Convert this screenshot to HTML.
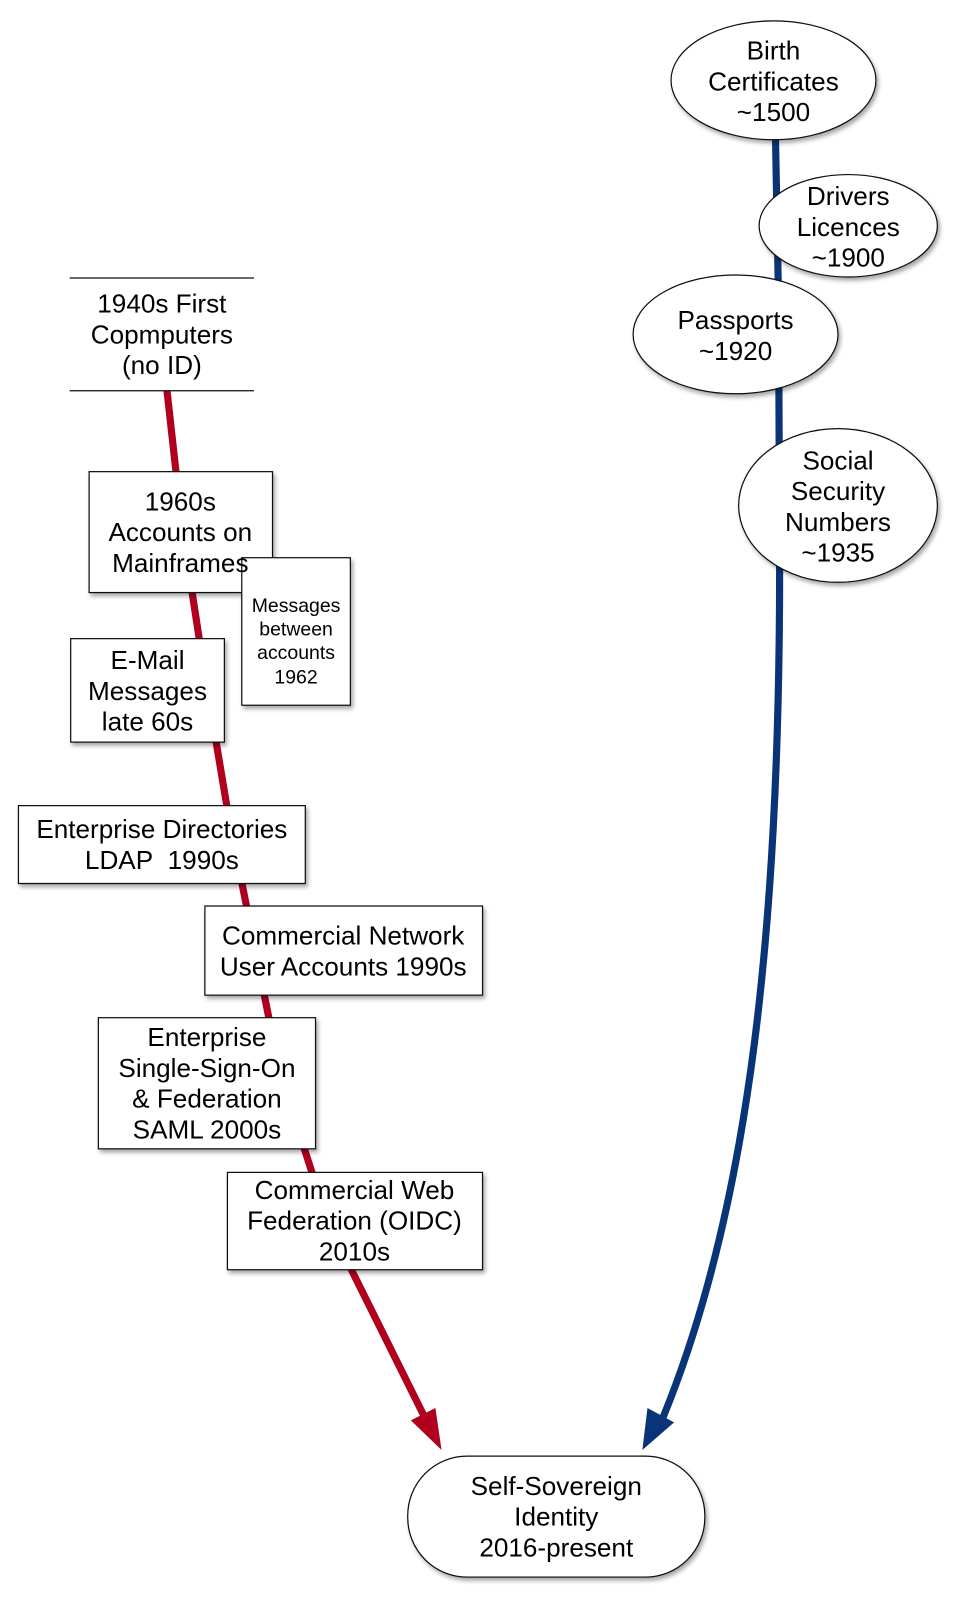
<!DOCTYPE html>
<html><head><meta charset="utf-8"><style>html,body{margin:0;padding:0;background:#fff}svg{display:block}</style></head>
<body>
<svg width="963" height="1600" viewBox="2 4 940 1561" xmlns="http://www.w3.org/2000/svg" font-family="Liberation Sans, sans-serif">
<defs>
<filter id="sh" x="-10%" y="-10%" width="130%" height="130%"><feDropShadow dx="2" dy="3" stdDeviation="2" flood-color="#000" flood-opacity="0.35"/></filter>
</defs>
<path d="M759,140 L762,300 L763,560 C763,900 735,1180 648,1390" fill="none" stroke="#0a3478" stroke-width="7"/>
<polygon points="634,1378 660,1392 629,1419" fill="#0a3478"/>
<path d="M165,385 L180,520 L200,650 L225,800 L245,900 L275,1050 L320,1190 L345,1243 L417,1388" fill="none" stroke="#b0001e" stroke-width="7"/>
<polygon points="403,1390 427,1378 433,1419" fill="#b0001e"/>

<g fill="#fff" stroke="#111" stroke-width="1.2" filter="url(#sh)">
<ellipse cx="757" cy="82" rx="100" ry="58"/>
<ellipse cx="830" cy="224" rx="87" ry="50"/>
<ellipse cx="720" cy="330" rx="100" ry="58"/>
<ellipse cx="820" cy="497" rx="97" ry="75"/>
<rect x="89" y="464" width="179" height="118"/>
<rect x="238" y="548" width="106" height="144"/>
<rect x="71" y="627" width="150" height="101"/>
<rect x="20" y="790" width="280" height="76"/>
<rect x="202" y="888" width="271" height="87"/>
<rect x="98" y="997" width="212" height="128"/>
<rect x="224" y="1148" width="249" height="95"/>
<rect x="400" y="1425" width="290" height="118" rx="58"/>
</g>
<line x1="70" y1="275" x2="250" y2="275" stroke="#111" stroke-width="1.2"/>
<line x1="70" y1="385" x2="250" y2="385" stroke="#111" stroke-width="1.2"/>

<g font-size="25.5" text-anchor="middle" dominant-baseline="central" fill="#000">
<text x="757" y="53">Birth</text><text x="757" y="83">Certificates</text><text x="757" y="113">~1500</text>
<text x="830" y="195">Drivers</text><text x="830" y="225">Licences</text><text x="830" y="255">~1900</text>
<text x="720" y="316">Passports</text><text x="720" y="346">~1920</text>
<text x="820" y="453">Social</text><text x="820" y="483">Security</text><text x="820" y="513">Numbers</text><text x="820" y="543">~1935</text>
<text x="160" y="300">1940s First</text><text x="160" y="330">Copmputers</text><text x="160" y="360">(no ID)</text>
<text x="178" y="493">1960s</text><text x="178" y="523">Accounts on</text><text x="178" y="553">Mainframes</text>
<text x="146" y="648">E-Mail</text><text x="146" y="678">Messages</text><text x="146" y="708">late 60s</text>
<text x="160" y="813">Enterprise Directories</text><text x="160" y="843">LDAP&#160;&#160;1990s</text>
<text x="337" y="917">Commercial Network</text><text x="337" y="947">User Accounts 1990s</text>
<text x="204" y="1016">Enterprise</text><text x="204" y="1046">Single-Sign-On</text><text x="204" y="1076">&amp; Federation</text><text x="204" y="1106">SAML 2000s</text>
<text x="348" y="1165">Commercial Web</text><text x="348" y="1195">Federation (OIDC)</text><text x="348" y="1225">2010s</text>
<text x="545" y="1454">Self-Sovereign</text><text x="545" y="1484">Identity</text><text x="545" y="1514">2016-present</text>
</g>
<g font-size="19" text-anchor="middle" dominant-baseline="central" fill="#000">
<text x="291" y="595">Messages</text><text x="291" y="618">between</text><text x="291" y="641">accounts</text><text x="291" y="665">1962</text>
</g>
</svg>
</body></html>
